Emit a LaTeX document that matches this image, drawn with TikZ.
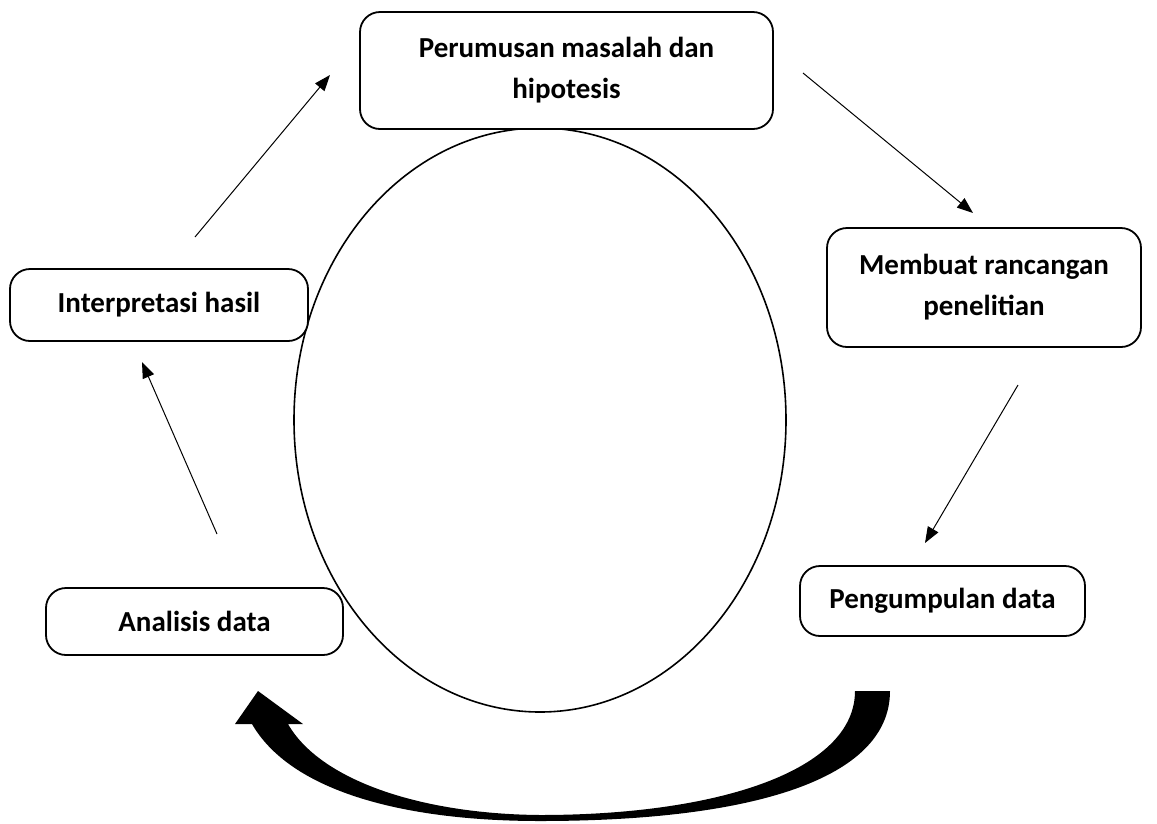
\documentclass[tikz,border=0pt]{standalone}
\usepackage{fontspec}
\setmainfont{Carlito}
\usetikzlibrary{arrows.meta}

\begin{document}
\begin{tikzpicture} [x=1pt, y=-1pt,
					box/.style = {draw,
					    rounded corners = 20pt,
					    line width = 1.8pt,
					    fill = white,
					    align = center,
					    font = \fontsize{29}{41}\selectfont\bfseries},
					link/.style = {line width = 1pt,
					    -{Triangle[length=16pt, width=12pt]}}]
					
					\useasboundingbox (0,0) rectangle (1157,823);
					
					\draw [line width = 1.6pt] (540,420) ellipse [x radius = 246, y radius = 292];
					
					\node (P) at (566.5,70.5) [box, minimum width = 413pt, minimum height = 117pt] {Perumusan masalah dan\\hipotesis};
					\node (M) at (984,287.5) [box, minimum width = 314pt, minimum height = 119pt] {Membuat rancangan\\penelitian};
					\node (K) at (942.5,601) [box, minimum width = 285pt, minimum height = 70pt] {Pengumpulan data};
					\node (A) at (194.5,621.5) [box, minimum width = 297pt, minimum height = 67pt] {Analisis data};
					\node (I) at (159,305) [box, minimum width = 298pt, minimum height = 72pt] {Interpretasi hasil};
					
					\coordinate (i1) at (195,237);   \coordinate (p1) at (330,75);
					\coordinate (p2) at (803,73);    \coordinate (m1) at (973,213);
					\coordinate (m2) at (1018,385);  \coordinate (k1) at (925,543);
					\coordinate (a1) at (217,534);   \coordinate (i2) at (142,362);
					
					\draw [link] (i1) -- (p1);
					\draw [link] (p2) -- (m1);
					\draw [link] (m2) -- (k1);
					\draw [link] (a1) -- (i2);
					
					% big curved arrow under the circle
					\fill (890,691) .. controls (890,780) and (750,821) .. (540,821)
					    .. controls (400,821) and (290,790) .. (252,724)
					    -- (235,724) -- (258,691) -- (303,724) -- (288,724)
					    .. controls (320,780) and (420,814) .. (540,815)
					    .. controls (720,815) and (855,770) .. (855,691) -- cycle;
					 
				\end{tikzpicture}
\end{document}
